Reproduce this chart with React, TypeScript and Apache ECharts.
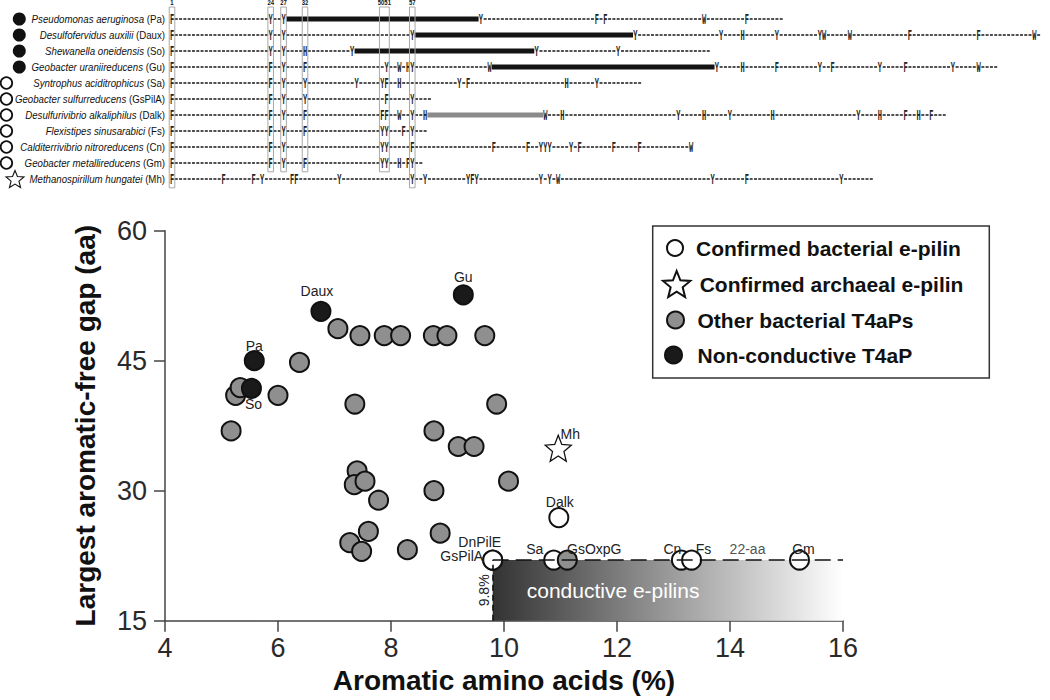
import { useEffect, useRef } from "react";
import * as echarts from "echarts";

const FONT = "'Liberation Sans', Arial, Helvetica, sans-serif";
const MONO = "'Liberation Mono', 'DejaVu Sans Mono', monospace";
const STAR_D =
  "M50 0 L62.93 32.2 L97.55 34.55 L70.92 56.8 L79.39 90.45 L50 72 L20.61 90.45 L29.08 56.8 L2.45 34.55 L37.07 32.2 Z";

// ---------- Top panel: aligned pilin sequences ----------
const species = [
  "Pseudomonas aeruginosa",
  "Desulfofervidus auxilii",
  "Shewanella oneidensis",
  "Geobacter uraniireducens",
  "Syntrophus aciditrophicus",
  "Geobacter sulfurreducens",
  "Desulfurivibrio alkaliphilus",
  "Flexistipes sinusarabici",
  "Calditerrivibrio nitroreducens",
  "Geobacter metallireducens",
  "Methanospirillum hungatei",
];
const speciesAbbr = ["Pa", "Daux", "So", "Gu", "Sa", "GsPilA", "Dalk", "Fs", "Cn", "Gm", "Mh"];
const speciesClass = ["non", "non", "non", "non", "bac", "bac", "bac", "bac", "bac", "bac", "arc"];
const pilinLength = [143, 203, 126, 193, 110, 61, 181, 60, 122, 59, 164];
const aromaticPositions = [
  [1, 24, 27, 73, 100, 102, 125, 135],
  [1, 24, 27, 57, 109, 129, 134, 142, 152, 153, 159, 173, 189, 202],
  [1, 24, 27, 32, 43, 86, 105],
  [1, 24, 27, 32, 51, 54, 56, 57, 75, 128, 134, 142, 152, 155, 166, 172, 183, 189],
  [1, 24, 27, 32, 44, 50, 51, 54, 68, 70, 93, 100],
  [1, 24, 27, 32, 51, 57],
  [1, 24, 27, 32, 50, 51, 54, 57, 60, 88, 92, 119, 125, 131, 141, 161, 166, 172, 175, 178],
  [1, 24, 27, 32, 50, 51, 55, 57],
  [1, 24, 27, 50, 51, 57, 76, 84, 87, 88, 89, 94, 96, 104, 110, 122],
  [1, 24, 27, 32, 50, 51, 54, 56, 57],
  [1, 13, 20, 22, 29, 30, 40, 57, 60, 70, 71, 72, 87, 89, 91, 127, 135, 157],
];
const aromaticLetters = [
  "FYYYFFWF",
  "FYYYYYHYYWWFFW",
  "FYYHYYY",
  "FFYFYWHYWYHFYFYFYW",
  "FFYYYYFHYFHY",
  "FFYYFY",
  "FFYFFFWYHWHYHYHYHFHF",
  "FFYFYYFY",
  "FFYYYFFFYYYYFFFW",
  "FFYFYYHFY",
  "FFFYFFYYYYFYYYWYFY",
];
// largest aromatic-free gaps drawn as bars
const gapRow = [0, 1, 2, 3, 6];
const gapFrom = [27, 57, 43, 75, 60];
const gapTo = [73, 109, 86, 128, 88];
// conserved aromatic columns
const colFrom = [1, 24, 27, 32, 50, 57];
const colTo = [1, 24, 27, 32, 51, 57];
const colLastRow = [10, 9, 9, 9, 9, 10];
const colLabel = ["1", "24", "27", "32", "5051", "57"];

// ---------- Scatter panel ----------
const otherX = [5.17, 5.25, 5.33, 6.0, 6.38, 7.06, 7.45, 7.88, 8.17, 8.75, 8.99, 9.66, 7.36, 9.87, 8.76, 9.19, 9.47, 7.4, 7.35, 7.54, 7.78, 8.76, 10.08, 7.6, 8.87, 7.27, 7.48, 8.29, 11.12];
const otherY = [36.9, 41.0, 41.9, 41.0, 44.8, 48.7, 47.9, 47.9, 47.9, 47.9, 47.9, 47.9, 40.0, 40.0, 36.9, 35.1, 35.1, 32.3, 30.7, 31.1, 28.9, 30.0, 31.1, 25.3, 25.1, 24.0, 23.0, 23.2, 22.0];
const otherNames = ["", "", "", "", "", "", "", "", "", "", "", "", "", "", "", "", "", "", "", "", "", "", "", "", "", "", "", "", "GsOxpG"];

const nonCondNames = ["Pa", "So", "Daux", "Gu"];
const nonCondX = [5.58, 5.53, 6.76, 9.28];
const nonCondY = [45.0, 41.8, 50.7, 52.6];

const bactNames = ["GsPilA", "DnPilE", "Dalk", "Sa", "Cn", "Fs", "Gm"];
const bactX = [9.8, 9.8, 10.97, 10.88, 13.14, 13.32, 15.23];
const bactY = [22, 22, 26.9, 22, 22, 22, 22];

const archNames = ["Mh"];
const archX = [10.96];
const archY = [34.9];

const thresholdPct = 9.8;
const thresholdGap = 22;
const xMin = 4;
const xMax = 16;
const yMin = 15;
const yMax = 60;

const seriesNames = [
  "Confirmed bacterial e-pilin",
  "Confirmed archaeal e-pilin",
  "Other bacterial T4aPs",
  "Non-conductive T4aP",
];

// label offsets (px) relative to point
const labelOffset: Record<string, number[]> = {
  Pa: [0, -15], So: [2, 16], Daux: [-4, -20], Gu: [0, -18], Dalk: [1, -16], Mh: [12, -14],
  DnPilE: [-13, -18], GsPilA: [-31, -4], Sa: [-19, -11], GsOxpG: [27, -11], Cn: [-9, -11],
  Fs: [12, -11], Gm: [4, -11], "22-aa": [0, -11],
};

const LABEL_ANCHOR = -0.63; // residue-axis position of the name column's right edge
const MARKER_POS: Record<string, number> = { non: -34.6, bac: -37.6, arc: -35.6 };

function pointItems(names: string[], xs: number[], ys: number[]) {
  return xs.map((x, i) => ({
    value: [x, ys[i]],
    name: names[i],
    label: names[i] ? { show: true, offset: labelOffset[names[i]] || [0, 0] } : { show: false },
  }));
}

export default function App() {
  const ref = useRef<HTMLDivElement>(null);
  useEffect(() => {
    document.body.style.margin = "0";
    const chart = echarts.init(ref.current!, null, { renderer: "svg" });

    const renderRow = (_params: any, api: any) => {
      const r = api.value(0) as number;
      const unit = api.size([1, 0])[0];
      const y = api.coord([1, r])[1];
      const children: any[] = [];
      const x0 = api.coord([0.65, r])[0];
      const x1 = api.coord([pilinLength[r] + 0.35, r])[0];
      children.push({
        type: "line",
        shape: { x1: x0, y1: y, x2: x1, y2: y },
        style: { stroke: "#1a1a1a", lineWidth: 1.6, lineDash: [unit * 0.7, unit * 0.3] },
      });
      const g = gapRow.indexOf(r);
      if (g >= 0) {
        const gx0 = api.coord([gapFrom[g] + 0.5, r])[0];
        const gx1 = api.coord([gapTo[g] - 0.5, r])[0];
        children.push({
          type: "rect",
          shape: { x: gx0, y: y - 2.6, width: gx1 - gx0, height: 5.2 },
          style: { fill: speciesClass[r] === "non" ? "#141414" : "#8a8a8a" },
        });
      }
      const pos = aromaticPositions[r];
      const letters = aromaticLetters[r];
      pos.forEach((p, k) => {
        const cx = api.coord([p, r])[0];
        children.push({
          type: "rect",
          shape: { x: cx - unit / 2, y: y - 6, width: unit, height: 12 },
          style: { fill: "#fff" },
        });
        children.push({
          type: "text",
          x: cx,
          y: y + 0.8,
          scaleX: 0.5,
          style: {
            text: letters[k], fontFamily: MONO, fontSize: 14, fontWeight: "bold", fill: "#222",
            align: "center", verticalAlign: "middle",
          },
        });
      });
      const lx = api.coord([LABEL_ANCHOR, r])[0];
      children.push({
        type: "text",
        x: lx,
        y: y,
        scaleX: 0.88,
        style: {
          text: `{it|${species[r]}} (${speciesAbbr[r]})`,
          rich: { it: { fontStyle: "italic", fontSize: 11, fontFamily: FONT, fill: "#111" } },
          fontSize: 11, fontFamily: FONT, fill: "#111", align: "right", verticalAlign: "middle",
        },
      });
      const cls = speciesClass[r];
      const mx = api.coord([MARKER_POS[cls], r])[0];
      if (cls === "non") {
        children.push({ type: "circle", shape: { cx: mx, cy: y, r: 6.5 }, style: { fill: "#111" } });
      } else if (cls === "bac") {
        children.push({
          type: "circle", shape: { cx: mx, cy: y, r: 5.8 },
          style: { fill: "#fff", stroke: "#111", lineWidth: 1.8 },
        });
      } else {
        children.push({
          type: "path",
          shape: { pathData: STAR_D, x: mx - 9, y: y - 9, width: 18, height: 18, layout: "center" },
          style: { fill: "#fff", stroke: "#111", lineWidth: 1.1 },
        });
      }
      return { type: "group", children };
    };

    const renderCol = (params: any, api: any) => {
      const i = params.dataIndex;
      const xA = api.coord([colFrom[i] - 0.65, 0])[0];
      const xB = api.coord([colTo[i] + 0.65, 0])[0];
      const yTop = api.coord([0, -0.75])[1];
      const yBot = api.coord([0, colLastRow[i] + 0.55])[1];
      const yLab = api.coord([0, -1.02])[1];
      return {
        type: "group",
        children: [
          {
            type: "rect",
            shape: { x: xA, y: yTop, width: xB - xA, height: yBot - yTop },
            style: { fill: "none", stroke: "#a8a8a8", lineWidth: 1 },
          },
          {
            type: "text",
            x: (xA + xB) / 2,
            y: yLab,
            scaleX: 0.85,
            style: {
              text: colLabel[i], fontSize: 7, fontWeight: "bold", fontFamily: FONT, fill: "#111",
              align: "center", verticalAlign: "middle",
            },
          },
        ],
      };
    };

    const labelBase = {
      show: true,
      position: "inside",
      formatter: "{b}",
      fontSize: 14,
      color: "#222",
      fontFamily: FONT,
      textBorderWidth: 0,
    };

    const legendIconCenter = [682, 680, 683, 683];
    const legendTextStart = [703, 703, 705, 707];
    const legendIconSize = [16, 26, 17, 17];
    const legendRowY = [248, 283, 320, 355];

    const legends = seriesNames.map((name, i) => {
      const w = 2 * (legendTextStart[i] - legendIconCenter[i] - 5);
      const h = legendIconSize[i];
      return {
        data: [name],
        orient: "vertical",
        left: legendIconCenter[i] - w / 2,
        top: legendRowY[i] - Math.max(h, 24) / 2,
        itemWidth: w,
        itemHeight: h,
        padding: 0,
        itemGap: 0,
        selectedMode: false,
        textStyle: { fontSize: 21, fontWeight: "bold", fontFamily: FONT, color: "#111", lineHeight: 24 },
      };
    });

    const option: any = {
      animation: false,
      textStyle: { fontFamily: FONT },
      grid: [
        { left: 165, top: 230.7, width: 678, height: 390, containLabel: false, outerBoundsMode: "none" },
        { left: 4.7, top: 3, width: 1042.5, height: 192, containLabel: false, outerBoundsMode: "none" },
      ],
      xAxis: [
        {
          gridIndex: 0, type: "value", min: xMin, max: xMax, interval: 2,
          name: "Aromatic amino acids (%)", nameLocation: "middle", nameGap: 46,
          nameTextStyle: { fontSize: 28, fontWeight: "bold", color: "#111", fontFamily: FONT },
          axisLine: { show: true, lineStyle: { color: "#444", width: 1.5 } },
          axisTick: { show: true, length: 11, lineStyle: { color: "#444", width: 1.5 } },
          axisLabel: { fontSize: 27, color: "#2a2a2a", margin: 14, fontFamily: FONT },
          splitLine: { show: false },
        },
        { gridIndex: 1, type: "value", min: -38, max: 205, show: false },
      ],
      yAxis: [
        {
          gridIndex: 0, type: "value", min: yMin, max: yMax, interval: 15,
          name: "Largest aromatic-free gap (aa)", nameLocation: "middle", nameGap: 66, nameRotate: 90,
          nameTextStyle: { fontSize: 28, fontWeight: "bold", color: "#111", fontFamily: FONT },
          axisLine: { show: true, lineStyle: { color: "#444", width: 1.5 } },
          axisTick: { show: true, length: 11, lineStyle: { color: "#444", width: 1.5 } },
          axisLabel: { fontSize: 27, color: "#2a2a2a", margin: 18, fontFamily: FONT },
          splitLine: { show: false },
        },
        { gridIndex: 1, type: "value", min: -1, max: 11, inverse: true, show: false },
      ],
      legend: legends,
      graphic: [
        {
          type: "rect",
          shape: { x: 652.7, y: 226, width: 336.6, height: 152 },
          style: { fill: "none", stroke: "#333", lineWidth: 1.5 },
          z: 10,
        },
      ],
      series: [
        {
          type: "custom",
          xAxisIndex: 1,
          yAxisIndex: 1,
          data: species.map((_, i) => [i]),
          renderItem: renderRow,
          silent: true,
          z: 2,
        },
        {
          type: "custom",
          xAxisIndex: 1,
          yAxisIndex: 1,
          data: colFrom.map((c, i) => [c, i]),
          renderItem: renderCol,
          silent: true,
          z: 3,
        },
        {
          type: "scatter",
          name: "conductive region",
          xAxisIndex: 0,
          yAxisIndex: 0,
          data: [{ value: [14.31, thresholdGap], name: "22-aa", label: { show: true, offset: labelOffset["22-aa"] } }],
          symbolSize: 0,
          label: labelBase,
          silent: true,
          z: 1,
          markArea: {
            silent: true,
            data: [
              [
                {
                  coord: [thresholdPct, thresholdGap],
                  itemStyle: {
                    opacity: 1,
                    color: new echarts.graphic.LinearGradient(0, 0, 1, 0, [
                      { offset: 0, color: "#333333" },
                      { offset: 1, color: "#ffffff" },
                    ]),
                  },
                  label: {
                    show: true,
                    position: "insideLeft",
                    offset: [29, 0],
                    formatter: "conductive e-pilins",
                    color: "#ffffff",
                    fontSize: 21,
                    fontFamily: FONT,
                  },
                },
                { coord: [xMax, yMin] },
              ],
            ],
          },
          markLine: {
            silent: true,
            symbol: ["none", "none"],
            label: { show: false },
            lineStyle: { color: "#111", width: 1.6, type: [16, 7], opacity: 1 },
            data: [
              [{ coord: [thresholdPct, thresholdGap] }, { coord: [xMax, thresholdGap] }],
              [
                {
                  coord: [thresholdPct, yMin],
                  lineStyle: { color: "#111", width: 1.6, type: [6, 4] },
                  label: {
                    show: true, position: "middle", formatter: "9.8%", fontSize: 14, color: "#222",
                    fontFamily: FONT, distance: 2,
                  },
                },
                { coord: [thresholdPct, thresholdGap] },
              ],
            ],
          },
        },
        {
          type: "scatter",
          name: seriesNames[0],
          xAxisIndex: 0,
          yAxisIndex: 0,
          symbol: "circle",
          symbolSize: 19,
          itemStyle: { color: "#ffffff", borderColor: "#111", borderWidth: 2, opacity: 1 },
          label: labelBase,
          data: pointItems(bactNames, bactX, bactY),
          silent: true,
          z: 3,
        },
        {
          type: "scatter",
          name: seriesNames[2],
          xAxisIndex: 0,
          yAxisIndex: 0,
          symbol: "circle",
          symbolSize: 19,
          itemStyle: { color: "#8f8f8f", borderColor: "#111", borderWidth: 2, opacity: 1 },
          label: labelBase,
          data: pointItems(otherNames, otherX, otherY),
          silent: true,
          z: 4,
        },
        {
          type: "scatter",
          name: seriesNames[3],
          xAxisIndex: 0,
          yAxisIndex: 0,
          symbol: "circle",
          symbolSize: 19,
          itemStyle: { color: "#1a1a1a", borderColor: "#111", borderWidth: 2, opacity: 1 },
          label: labelBase,
          data: pointItems(nonCondNames, nonCondX, nonCondY),
          silent: true,
          z: 5,
        },
        {
          type: "scatter",
          name: seriesNames[1],
          xAxisIndex: 0,
          yAxisIndex: 0,
          symbol: "path://" + STAR_D,
          symbolSize: 26,
          itemStyle: { color: "#ffffff", borderColor: "#111", borderWidth: 1.3, opacity: 1 },
          label: labelBase,
          data: pointItems(archNames, archX, archY),
          silent: true,
          z: 5,
        },
      ],
    };
    chart.setOption(option);
    return () => chart.dispose();
  }, []);
  return <div ref={ref} style={{ width: 1050, height: 700 }} />;
}
